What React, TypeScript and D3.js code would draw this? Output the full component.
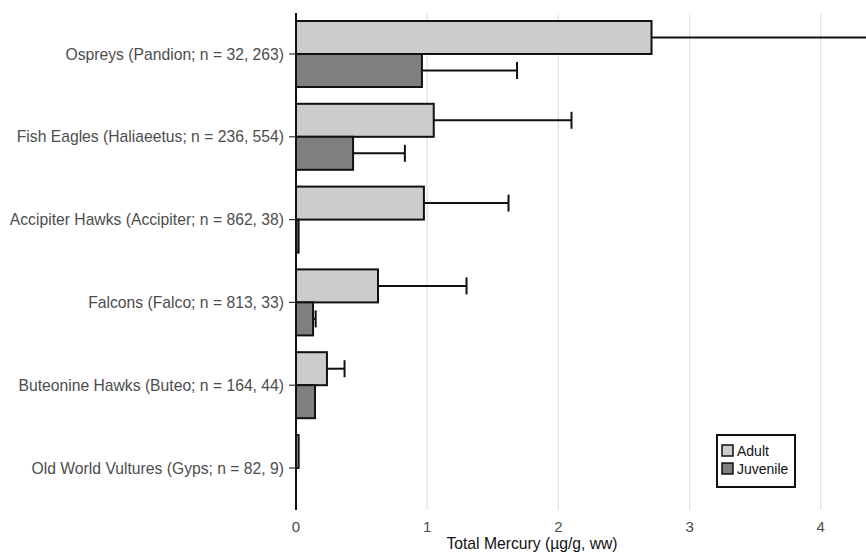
import React from "react";
import * as d3 from "d3";

const categories = [
  "Ospreys (Pandion; n = 32, 263)",
  "Fish Eagles (Haliaeetus; n = 236, 554)",
  "Accipiter Hawks (Accipiter; n = 862, 38)",
  "Falcons (Falco; n = 813, 33)",
  "Buteonine Hawks (Buteo; n = 164, 44)",
  "Old World Vultures (Gyps; n = 82, 9)",
];
const adultMean = [2.71, 1.05, 0.975, 0.625, 0.236, 0.02];
const adultUpper = [4.6, 2.1, 1.62, 1.3, 0.37, 0.02];
const juvenileMean = [0.96, 0.435, 0.02, 0.13, 0.145, 0.0];
const juvenileUpper = [1.685, 0.83, 0.02, 0.15, 0.145, 0.0];
const xTicks = [0, 1, 2, 3, 4];
const seriesNames = ["Adult", "Juvenile"];
const seriesColors = ["#cccccc", "#7f7f7f"];

export default function App() {
  const W = 866, H = 556;
  const x = d3.scaleLinear().domain([0, 4.345]).range([296, 866]);
  const y = d3.scalePoint<string>().domain(categories).range([54, 468]);
  const bh = 33;
  const font = "'Liberation Sans', Arial, sans-serif";
  const series = [
    { mean: adultMean, upper: adultUpper, off: -bh },
    { mean: juvenileMean, upper: juvenileUpper, off: 0 },
  ];
  return (
    <svg width={W} height={H} style={{ position: "absolute", left: 0, top: 0 }} fontFamily={font}>
      <rect width={W} height={H} fill="#fff" />
      {xTicks.filter((t) => t > 0).map((t) => (
        <line key={t} x1={x(t)} x2={x(t)} y1={13} y2={510} stroke="#e3e3e3" strokeWidth={1.3} />
      ))}
      {series.map((s, si) =>
        categories.map((c, i) => {
          const yc = (y(c) as number) + s.off;
          const x0 = x(0), x1 = x(s.mean[i]), xu = x(s.upper[i]);
          return (
            <g key={si + "-" + i}>
              {s.upper[i] > s.mean[i] && (
                <g stroke="#111" strokeWidth={2}>
                  <line x1={x1} x2={xu} y1={yc + bh / 2} y2={yc + bh / 2} />
                  <line x1={xu} x2={xu} y1={yc + bh / 2 - 8.5} y2={yc + bh / 2 + 8.5} />
                </g>
              )}
              {s.mean[i] > 0 && (
                <rect x={x0} y={yc} width={Math.max(x1 - x0, 0)} height={bh} fill={seriesColors[si]} stroke="#111" strokeWidth={2} />
              )}
            </g>
          );
        })
      )}
      <line x1={296} x2={296} y1={13} y2={510} stroke="#111" strokeWidth={2} />
      {categories.map((c) => (
        <g key={c}>
          <line x1={289} x2={296} y1={y(c)} y2={y(c)} stroke="#333" strokeWidth={1.2} />
          <text x={284} y={(y(c) as number) + 5.5} textAnchor="end" fontSize={15.7} fill="#4d4d4d">{c}</text>
        </g>
      ))}
      {xTicks.map((t) => (
        <text key={t} x={x(t)} y={532} textAnchor="middle" fontSize={15} fill="#4d4d4d">{t}</text>
      ))}
      <text x={532} y={549} textAnchor="middle" fontSize={15.7} fill="#111">Total Mercury (µg/g, ww)</text>
      <g transform="translate(717,435)">
        <rect width={78} height={52} fill="#fff" stroke="#111" strokeWidth={2} />
        {seriesNames.map((n, i) => (
          <g key={n} transform={`translate(5,${10 + i * 18})`}>
            <rect width={11} height={11} fill={seriesColors[i]} stroke="#111" strokeWidth={1.5} />
            <text x={15} y={10.5} fontSize={14} fill="#111">{n}</text>
          </g>
        ))}
      </g>
    </svg>
  );
}
